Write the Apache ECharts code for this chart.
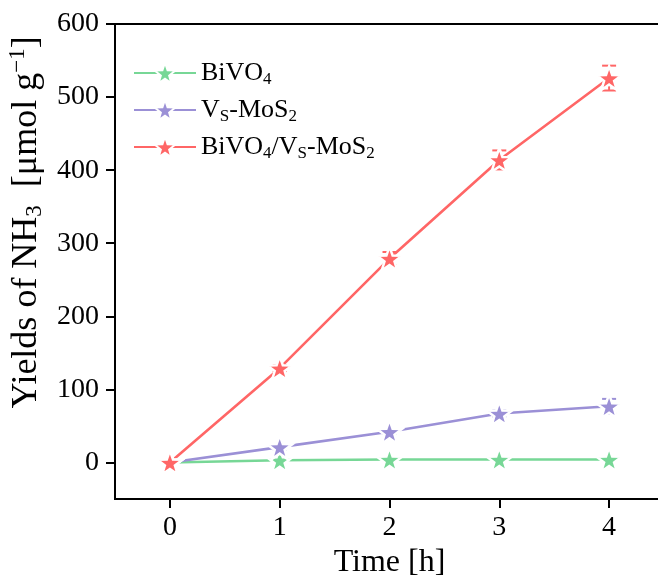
<!DOCTYPE html>
<html><head><meta charset="utf-8">
<script src="https://cdn.jsdelivr.net/npm/echarts@6/dist/echarts.min.js"></script>
<style>html,body{margin:0;padding:0;background:#fff;overflow:hidden}#c{width:658px;height:581px}</style>
</head><body><div id="c"></div>
<script>
const times = [0, 1, 2, 3, 4];
const bivo4 = [0, 3, 4, 4, 4];
const vsMoS2 = [0, 21, 42, 67, 77];
const composite = [0, 129, 279, 414, 526];
const bivo4Err = [0, 1, 1, 1, 1];
const vsMoS2Err = [0, 3, 3, 4, 10];
const compositeErr = [0, 4, 9, 13, 17];
const xTicks = [0, 1, 2, 3, 4];
const yTicks = [0, 100, 200, 300, 400, 500, 600];
const seriesNames = ['BiVO4', 'Vs-MoS2', 'BiVO4/Vs-MoS2'];
const colors = ['#77D796', '#9B90D6', '#FF6666'];

const FONT = "'Liberation Serif','Times New Roman',serif";
const STAR = 'path://M0,-10L2.35,-3.24L9.51,-3.09L3.8,1.24L5.88,8.09L0,4L-5.88,8.09L-3.8,1.24L-9.51,-3.09L-2.35,-3.24Z';

const legendRich = {
  'BiVO4': '{n|BiVO}{s|4}',
  'Vs-MoS2': '{n|V}{s|S}{n|-MoS}{s|2}',
  'BiVO4/Vs-MoS2': '{n|BiVO}{s|4}{n|/V}{s|S}{n|-MoS}{s|2}'
};

function pts(vals) { return times.map((t, i) => [t, vals[i]]); }
function errPts(vals, errs) { return times.map((t, i) => [t, vals[i], errs[i]]); }

function lineSeries(name, vals, color) {
  return {
    name: name, type: 'line', data: pts(vals),
    symbol: STAR, symbolSize: 25, symbolKeepAspect: true,
    lineStyle: { color: color, width: 2.6 },
    itemStyle: { color: color, borderColor: '#fff', borderWidth: 2.5 },
    emphasis: { disabled: true }, z: 3
  };
}
function errSeries(name, vals, errs, color) {
  return {
    name: name + ' err', type: 'custom', data: errPts(vals, errs),
    itemStyle: { color: color }, z: 2, silent: true,
    renderItem: function (params, api) {
      const x = api.value(0), y = api.value(1), e = api.value(2);
      if (!e) return;
      const top = api.coord([x, y + e]), bot = api.coord([x, y - e]);
      const w = 7, st = { stroke: color, lineWidth: 2 };
      return { type: 'group', children: [
        { type: 'line', shape: { x1: top[0], y1: top[1], x2: bot[0], y2: bot[1] }, style: st },
        { type: 'line', shape: { x1: top[0] - w, y1: top[1], x2: top[0] + w, y2: top[1] }, style: st },
        { type: 'line', shape: { x1: bot[0] - w, y1: bot[1], x2: bot[0] + w, y2: bot[1] }, style: st }
      ]};
    }
  };
}

const chart = echarts.init(document.getElementById('c'));
chart.setOption({
  animation: false,
  grid: { left: 115, top: 24, width: 549, height: 475, containLabel: false, outerBoundsMode: 'none',
          show: true, borderColor: '#000', borderWidth: 2, backgroundColor: 'transparent' },
  legend: {
    data: seriesNames, orient: 'vertical', left: 128, top: 55,
    itemWidth: 62, itemHeight: 26, itemGap: 9,
    formatter: n => legendRich[n],
    textStyle: {
      fontFamily: FONT, color: '#000', fontSize: 26,
      rich: {
        n: { fontFamily: FONT, fontSize: 26, lineHeight: 30, color: '#000' },
        s: { fontFamily: FONT, fontSize: 17, lineHeight: 17, verticalAlign: 'bottom', color: '#000' }
      }
    }
  },
  xAxis: {
    type: 'value', min: -0.5, max: 4.5,
    name: 'Time [h]', nameLocation: 'middle', nameGap: 42,
    nameTextStyle: { fontFamily: FONT, fontSize: 32, color: '#000' },
    axisLine: { show: true, onZero: false, lineStyle: { color: '#000', width: 2 } },
    axisTick: { show: true, inside: false, length: 9, lineStyle: { color: '#000', width: 2 }, customValues: xTicks },
    axisLabel: { fontFamily: FONT, fontSize: 28, color: '#000', margin: 15, customValues: xTicks },
    splitLine: { show: false }
  },
  yAxis: {
    type: 'value', min: -50, max: 600,
    name: '{t|Yields of NH}{s|3}{t|  [μmol g}{p|−1}{t|]}',
    nameLocation: 'middle', nameGap: 63, nameRotate: 90,
    nameTextStyle: {
      fontFamily: FONT, fontSize: 36, color: '#000', padding: [0, 0, 0, 78],
      rich: {
        t: { fontFamily: FONT, fontSize: 36, lineHeight: 40, color: '#000' },
        s: { fontFamily: FONT, fontSize: 23, lineHeight: 23, verticalAlign: 'bottom', color: '#000' },
        p: { fontFamily: FONT, fontSize: 23, lineHeight: 23, verticalAlign: 'top', color: '#000' }
      }
    },
    axisLine: { show: true, onZero: false, lineStyle: { color: '#000', width: 2 } },
    axisTick: { show: true, inside: false, length: 9, lineStyle: { color: '#000', width: 2 }, customValues: yTicks },
    axisLabel: { fontFamily: FONT, fontSize: 28, color: '#000', margin: 16, customValues: yTicks },
    splitLine: { show: false }
  },
  series: [
    errSeries(seriesNames[0], bivo4, bivo4Err, colors[0]),
    errSeries(seriesNames[1], vsMoS2, vsMoS2Err, colors[1]),
    errSeries(seriesNames[2], composite, compositeErr, colors[2]),
    lineSeries(seriesNames[0], bivo4, colors[0]),
    lineSeries(seriesNames[1], vsMoS2, colors[1]),
    lineSeries(seriesNames[2], composite, colors[2])
  ]
});
</script></body></html>
